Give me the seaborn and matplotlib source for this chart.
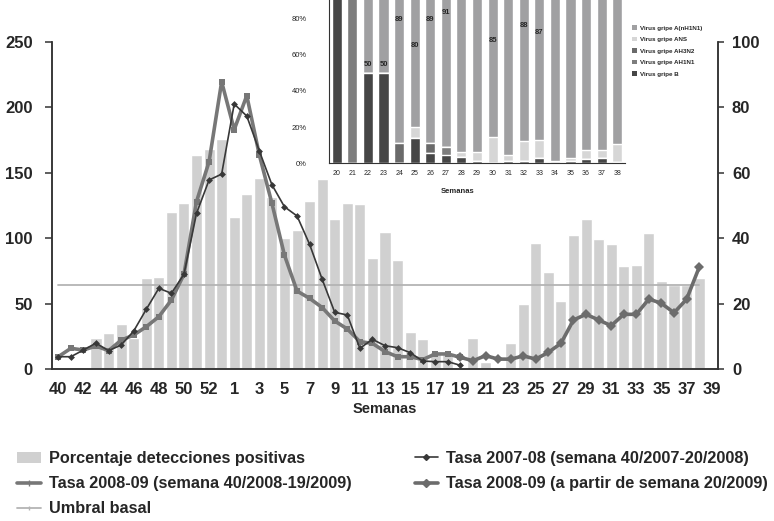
import numpy as np
import matplotlib
matplotlib.use('Agg')
import matplotlib.pyplot as plt
from matplotlib.lines import Line2D
from matplotlib.patches import Patch
import seaborn as sns

sns.set_style('white')
plt.rcParams['font.family'] = ['Liberation Sans', 'DejaVu Sans']

# ---- main chart data (season weeks 40..53, 1..39) ----
weeks = [str(w) for w in list(range(40, 54)) + list(range(1, 40))]
pct_pos = [0, 0, 0, 9.6, 10.9, 13.8, 9.6, 27.7, 28.2, 48, 50.8, 65.4, 67.3, 70.3,
           46.6, 53.6, 58.4, 52.7, 40, 42.5, 51.3, 58, 46, 50.9, 50.4, 34, 42, 33.3,
           11.4, 9.1, 5.2, 4.5, 0, 9.6, 2, 0, 8, 19.8, 38.6, 29.7, 20.8, 41, 46,
           39.7, 38.2, 31.5, 31.9, 41.5, 26.9, 25.7, 25.7, 27.7, 0]
# tasa 2007-08, weeks 40/2007 .. 19/2008
tasa_0708 = [9.4, 9.4, 14.5, 19.8, 14, 18.3, 29, 45.6, 61.7, 57.9, 72.4, 119, 144.5, 149,
             202.6, 193.4, 166.7, 140.9, 124, 117, 95.3, 68.6, 43.3, 41.3, 15.8, 22.7,
             17.8, 16.3, 12.5, 6.1, 5.6, 5.6, 2.8]
# tasa 2008-09, weeks 40/2008 .. 19/2009
tasa_0809a = [9.4, 15.8, 14.5, 17.6, 14, 22, 26, 32.3, 40, 52.7, 72.4, 128, 158.5, 219.6,
              183, 209, 163.6, 126.7, 87, 59.6, 54, 47, 36.7, 30.6, 20.9, 19.6, 13.3,
              9.4, 9.4, 7.2, 11.5, 11.5, 8.9]
# tasa 2008-09 from week 19/20 2009 to 38
tasa_0809b = [8.9, 6.3, 10.2, 7.6, 7.5, 10, 7.6, 12.7, 19.6, 37.5, 41.8, 37.5, 33.1,
              41.8, 41.8, 53.5, 50.2, 43, 53.3, 77.7]
umbral = 64.2
umbral_weeks = weeks[:52]

# ---- inset data (weeks 20..38, % of positive detections) ----
in_weeks = [str(w) for w in range(20, 39)]
v_b     = [100, 0, 50, 50, 0, 13.8, 5.5, 4.6, 3.7, 1.3, 0.3, 1, 1, 2.8, 0, 1.3, 2.2, 3.1, 0.5]
v_ah1n1 = [0, 100, 0, 0, 0, 0, 0, 4.6, 0, 0, 0, 0, 0, 0, 0, 0, 0, 0, 0]
v_ah3n2 = [0, 0, 0, 0, 11.4, 0, 5.9, 0, 0, 0, 0, 0, 0, 0, 0, 0, 0, 0, 0]
v_ans   = [0, 0, 0, 0, 0, 6.1, 0, 0, 2.4, 4.8, 14.4, 3.6, 11.3, 10.1, 1.3, 1.8, 5.1, 4.2, 10.1]
v_nh1n1 = [0, 0, 50, 50, 89, 80, 89, 91, 94, 94, 85, 95, 88, 87, 99, 97, 93, 93, 89]
lab_weeks = ['22', '23', '24', '25', '26', '27', '30', '32', '33']
lab_vals = ['50', '50', '89', '80', '89', '91', '85', '88', '87']
lab_y = [54.3, 54.3, 79, 64.9, 79, 83.3, 67.5, 76.1, 72.3]

C_TXT = '#262626'
C_BAR = '#d0d0d0'

fig = plt.figure(figsize=(7.74, 5.21), dpi=100)
ax = fig.add_axes([52 / 774, 1 - 369 / 521, 666 / 774, 327 / 521])
sns.barplot(x=weeks, y=pct_pos, order=weeks, color=C_BAR, saturation=1,
            width=0.88, ax=ax)
ax.set_xlim(-0.5, 52.5)
ax.set_ylim(0, 100)
ax.set_ylabel('')

ax2 = ax.twinx()
# twinx moves the original ticks to the left; swap sides
ax.yaxis.tick_right()
ax2.yaxis.tick_left()
ax.set_yticks(range(0, 101, 20))

pos = {w: i for i, w in enumerate(weeks)}
x_um = [pos[w] for w in umbral_weeks]
ax2.plot(x_um, [umbral] * len(x_um), color='#b4b4b4', lw=1.3)
x_a = [pos[w] for w in weeks[:len(tasa_0708)]]
sns.lineplot(x=x_a, y=tasa_0809a, ax=ax2, color='#777777', lw=2.6, marker='s',
             markersize=4.5, markeredgewidth=0)
sns.lineplot(x=x_a, y=tasa_0708, ax=ax2, color='#383838', lw=1.2, marker='D',
             markersize=3.5, markeredgewidth=0)
x_b = [pos[str(w)] for w in range(19, 39)]
sns.lineplot(x=x_b, y=tasa_0809b, ax=ax2, color='#6c6c6c', lw=2.6, marker='D',
             markersize=5, markeredgewidth=0)
ax2.set_ylim(0, 250)
ax2.set_yticks(range(0, 251, 50))
ax2.set_xlim(-0.5, 52.5)

for a in (ax, ax2):
    a.spines['top'].set_visible(False)
    for s in ('left', 'right', 'bottom'):
        a.spines[s].set_color('#333333')
        a.spines[s].set_linewidth(1.1)

ax.set_xticks(range(0, 53, 2))
ax.set_xticklabels(weeks[::2])
ax.set_xticks(np.arange(-0.5, 53, 1), minor=True)
ax.tick_params(axis='x', which='major', length=0, pad=9, labelsize=12, labelcolor=C_TXT)
ax.tick_params(axis='x', which='minor', length=4, width=1.1, color='#333333')
ax.tick_params(axis='y', length=4, width=1.1, color='#333333', pad=6,
               labelsize=12, labelcolor=C_TXT)
ax2.tick_params(axis='y', length=5, width=1.1, color='#333333', pad=9,
                labelsize=12, labelcolor=C_TXT)
for lbl in ax.get_xticklabels() + ax.get_yticklabels() + ax2.get_yticklabels():
    lbl.set_fontweight('bold')
ax.set_xlabel('Semanas', fontsize=10.5, fontweight='bold', color=C_TXT, labelpad=4)

# legend below
handles = [Patch(facecolor=C_BAR, edgecolor='none'),
           Line2D([], [], color='#777777', lw=2.6, marker='|', markersize=5),
           Line2D([], [], color='#b4b4b4', lw=1.3, marker='|', markersize=3),
           Line2D([], [], color='#383838', lw=1.2, marker='D', markersize=3),
           Line2D([], [], color='#6c6c6c', lw=2.6, marker='D', markersize=4)]
labels = ['Porcentaje detecciones positivas',
          'Tasa 2008-09 (semana 40/2008-19/2009)',
          'Umbral basal',
          'Tasa 2007-08 (semana 40/2007-20/2008)',
          'Tasa 2008-09 (a partir de semana 20/2009)']
leg = fig.legend(handles, labels, ncol=2, loc='upper left', bbox_to_anchor=(17 / 774, 1 - 451 / 521),
                 frameon=False, borderpad=0, borderaxespad=0, handlelength=1.45,
                 handletextpad=0.5, labelspacing=0.63, columnspacing=3.9,
                 prop={'weight': 'bold', 'size': 11.7})
for t in leg.get_texts():
    t.set_color(C_TXT)

# inset stacked bars
axi = fig.add_axes([329 / 774, 1 - 163.3 / 521, 296 / 774, 163.3 / 521])
axi.set_facecolor('white')
layers = [(v_b, '#464646'), (v_ah1n1, '#7d7d7d'), (v_ah3n2, '#6a6a6a'),
          (v_ans, '#d6d6d6'), (v_nh1n1, '#a0a0a2')]
cum = np.cumsum([l[0] for l in layers], axis=0)
for i in range(len(layers) - 1, -1, -1):
    sns.barplot(x=in_weeks, y=cum[i], order=in_weeks, color=layers[i][1],
                saturation=1, width=0.65, ax=axi)
axi.set_xlim(-0.5, 18.5)
axi.set_ylim(0, 90)
axi.set_yticks(range(0, 81, 20))
axi.set_yticklabels([f'{v}%' for v in range(0, 81, 20)])
axi.set_xticks(range(len(in_weeks)))
axi.set_xticklabels(in_weeks)
axi.set_xticks(np.arange(-0.5, 19, 1), minor=True)
axi.tick_params(axis='x', which='major', length=0, pad=5, labelsize=5, labelcolor=C_TXT)
axi.tick_params(axis='x', which='minor', length=2.5, width=0.8, color='#333333')
axi.tick_params(axis='y', length=2, width=0.8, color='#333333', pad=14,
                labelsize=5.5, labelcolor=C_TXT)
for s in ('top', 'right'):
    axi.spines[s].set_visible(False)
for s in ('left', 'bottom'):
    axi.spines[s].set_color('#333333')
    axi.spines[s].set_linewidth(0.8)
axi.set_ylabel('')
axi.set_xlabel('Semanas', fontsize=5.5, fontweight='bold', color=C_TXT)
axi.xaxis.set_label_coords(0.436, -0.15)
ipos = {w: i for i, w in enumerate(in_weeks)}
for w, v, y in zip(lab_weeks, lab_vals, lab_y):
    axi.text(ipos[w], y, v, ha='center', va='center', fontsize=5.5,
             fontweight='bold', color=C_TXT)

in_names = ['Virus gripe A(nH1N1)', 'Virus gripe ANS', 'Virus gripe AH3N2',
            'Virus gripe AH1N1', 'Virus gripe B']
in_handles = [Patch(facecolor=c, edgecolor='none') for c in
              ['#a0a0a2', '#d6d6d6', '#6a6a6a', '#7d7d7d', '#464646']]
fig.legend(in_handles, in_names, loc='upper left', bbox_to_anchor=(632 / 774, 1 - 25 / 521),
           frameon=False, borderpad=0, borderaxespad=0, handlelength=0.8,
           handleheight=0.8, handletextpad=0.4, labelspacing=0.95,
           prop={'weight': 'bold', 'size': 4.5})

fig.savefig('out.png', dpi=100)
